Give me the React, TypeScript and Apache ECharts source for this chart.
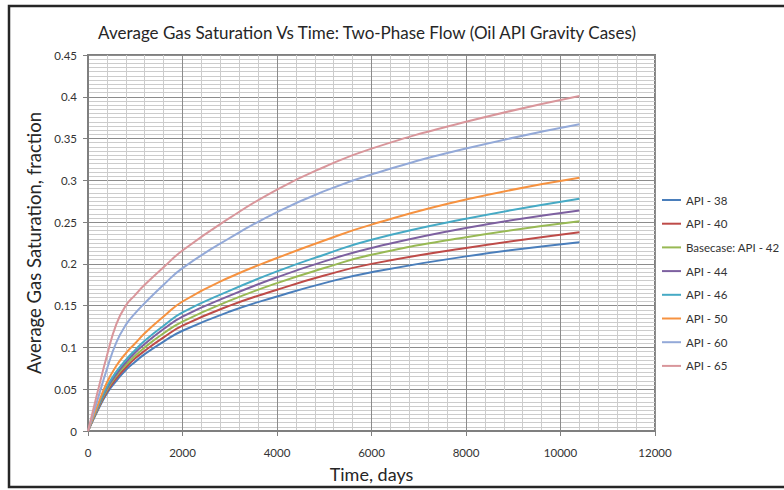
import React, { useEffect, useRef } from "react";
import * as echarts from "echarts";

// Simulation time (days) at which each saturation value is reported
const days = [0, 200, 400, 600, 800, 1000, 1200, 1600, 2000, 3000, 4000, 5000, 6000, 8000, 10400];

// Average gas saturation (fraction) for each oil API gravity case
const api38 = [0, 0.024, 0.045, 0.06, 0.073, 0.083, 0.092, 0.107, 0.12, 0.143, 0.161, 0.177, 0.19, 0.209, 0.226];
const api40 = [0, 0.025, 0.047, 0.063, 0.076, 0.087, 0.096, 0.112, 0.126, 0.15, 0.169, 0.186, 0.2, 0.219, 0.238];
const api42 = [0, 0.026, 0.049, 0.066, 0.079, 0.09, 0.1, 0.117, 0.131, 0.156, 0.177, 0.195, 0.211, 0.232, 0.251];
const api44 = [0, 0.027, 0.051, 0.068, 0.082, 0.094, 0.104, 0.122, 0.137, 0.162, 0.184, 0.203, 0.219, 0.243, 0.264];
const api46 = [0, 0.028, 0.053, 0.071, 0.085, 0.097, 0.108, 0.126, 0.142, 0.168, 0.191, 0.211, 0.229, 0.254, 0.278];
const api50 = [0, 0.03, 0.058, 0.078, 0.093, 0.105, 0.117, 0.137, 0.155, 0.184, 0.207, 0.228, 0.247, 0.277, 0.303];
const api60 = [0, 0.037, 0.074, 0.106, 0.127, 0.141, 0.153, 0.175, 0.195, 0.231, 0.262, 0.287, 0.307, 0.338, 0.367];
const api65 = [0, 0.046, 0.09, 0.128, 0.15, 0.163, 0.175, 0.196, 0.216, 0.255, 0.289, 0.316, 0.338, 0.37, 0.401];

const seriesNames = [
  "API - 38",
  "API - 40",
  "Basecase: API - 42",
  "API - 44",
  "API - 46",
  "API - 50",
  "API - 60",
  "API - 65",
];
const seriesValues = [api38, api40, api42, api44, api46, api50, api60, api65];
const seriesColors = ["#4a7ebb", "#be4b48", "#98b954", "#7d60a0", "#46aac5", "#f69240", "#93a9d8", "#d9969b"];

const titleText = "Average Gas Saturation Vs Time: Two-Phase Flow (Oil API Gravity Cases)";
const xName = "Time, days";
const yName = "Average Gas Saturation, fraction";

const FONT = "Lato, 'Open Sans', sans-serif";

export default function App() {
  const ref = useRef<HTMLDivElement>(null);

  useEffect(() => {
    if (!ref.current) return;
    const chart = echarts.init(ref.current, undefined, { renderer: "svg" });

    const series = seriesNames.map((name, s) => ({
      name,
      type: "line",
      data: days.map((d, i) => [d, seriesValues[s][i]]),
      showSymbol: false,
      symbol: "none",
      smooth: 0.5,
      lineStyle: { width: 2, color: seriesColors[s] },
      itemStyle: { color: seriesColors[s] },
      z: 3,
    }));

    chart.setOption({
      animation: false,
      backgroundColor: "#ffffff",
      textStyle: { fontFamily: FONT },
      grid: {
        left: 88,
        right: 129,
        top: 55,
        bottom: 59,
        show: true,
        borderColor: "#7f7f7f",
        borderWidth: 2,
        backgroundColor: "transparent",
      },
      graphic: [
        {
          type: "rect",
          shape: { x: 9, y: 6, width: 820, height: 481 },
          style: { fill: "none", stroke: "#262626", lineWidth: 2.5 },
          silent: true,
        },
        {
          type: "text",
          x: 367,
          y: 32,
          style: {
            text: titleText,
            fontSize: 17,
            fontFamily: FONT,
            fill: "#262626",
            align: "center",
            verticalAlign: "middle",
          },
        },
      ],
      legend: {
        orient: "vertical",
        left: 657,
        top: 187,
        icon: "rect",
        itemWidth: 19,
        itemHeight: 2,
        itemGap: 7.7,
        textStyle: { fontSize: 11.5, color: "#333", lineHeight: 16, fontFamily: FONT },
        data: seriesNames,
      },
      xAxis: {
        type: "value",
        min: 0,
        max: 12000,
        interval: 2000,
        name: xName,
        nameLocation: "middle",
        nameGap: 34,
        nameTextStyle: { fontSize: 18, color: "#262626", fontFamily: FONT },
        axisLine: { show: true, lineStyle: { color: "#7f7f7f", width: 2 } },
        axisTick: { show: true, length: 5, lineStyle: { color: "#7f7f7f" } },
        axisLabel: {
          fontSize: 11.5,
          color: "#333",
          margin: 15,
          fontFamily: FONT,
          formatter: (v: number) => String(v),
        },
        splitLine: { show: true, lineStyle: { color: "#8c8c8c", width: 1 } },
        minorTick: { show: false, splitNumber: 5 },
        minorSplitLine: { show: true, lineStyle: { color: "#cccccc", width: 1 } },
      },
      yAxis: {
        type: "value",
        min: 0,
        max: 0.45,
        interval: 0.05,
        name: yName,
        nameLocation: "middle",
        nameGap: 42,
        nameTextStyle: { fontSize: 18.5, color: "#262626", fontFamily: FONT },
        axisLine: { show: true, lineStyle: { color: "#7f7f7f", width: 2 } },
        axisTick: { show: true, length: 5, lineStyle: { color: "#7f7f7f" } },
        axisLabel: {
          fontSize: 11.5,
          color: "#333",
          margin: 11,
          fontFamily: FONT,
          formatter: (v: number) => String(Math.round(v * 100) / 100),
        },
        splitLine: { show: true, lineStyle: { color: "#8c8c8c", width: 1 } },
        minorTick: { show: false, splitNumber: 10 },
        minorSplitLine: { show: true, lineStyle: { color: "#cccccc", width: 1 } },
      },
      series,
    });

    return () => chart.dispose();
  }, []);

  return (
    <div
      ref={ref}
      style={{ position: "fixed", left: 0, top: 0, width: 784, height: 490 }}
    />
  );
}
